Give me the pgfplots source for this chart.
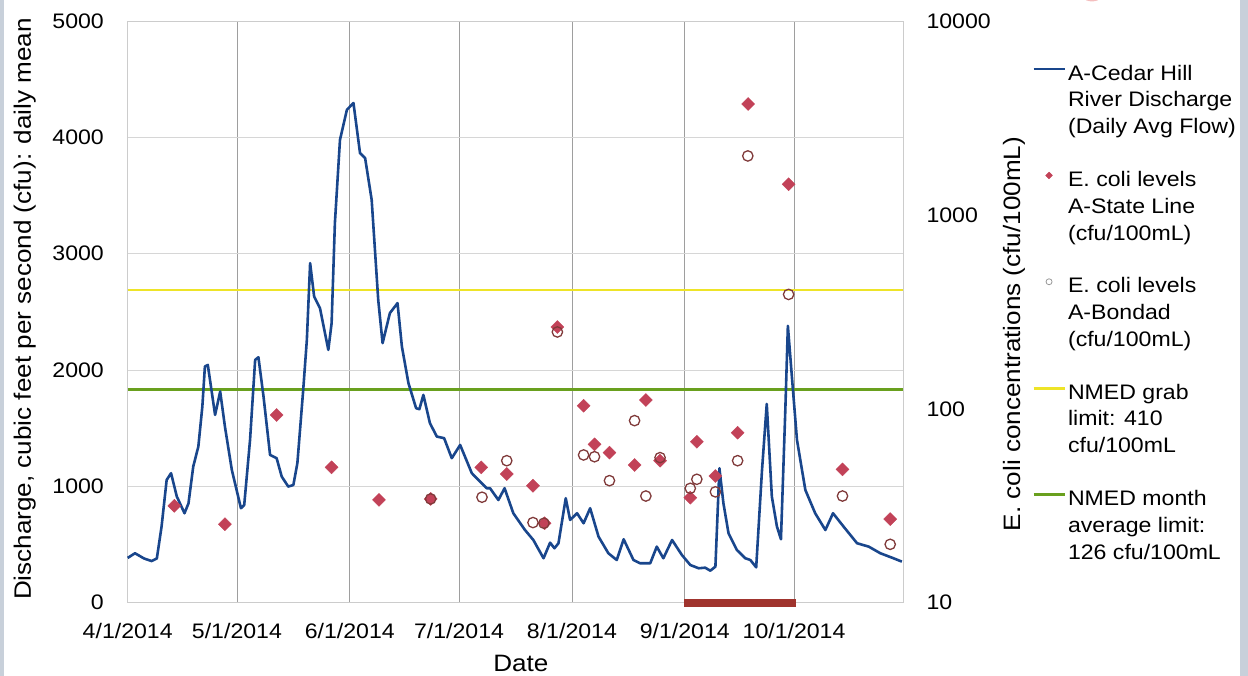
\documentclass[border=0pt]{standalone}
\usepackage{fontspec}
\setmainfont{Liberation Sans}[FakeStretch=1.1]
\usepackage{pgfplots}
\pgfplotsset{compat=1.18}

\definecolor{flow}{RGB}{25,70,140}
\definecolor{grab}{RGB}{238,228,40}
\definecolor{monthc}{RGB}{105,160,30}
\definecolor{stateline}{RGB}{194,66,88}
\definecolor{bondad}{RGB}{128,58,58}
\definecolor{redbar}{RGB}{160,52,46}
\definecolor{strip}{RGB}{200,208,218}
\definecolor{arcred}{RGB}{244,190,190}

\newcommand\tickfont{\fontsize{21bp}{25bp}\selectfont}
\newcommand\labfont{\fontsize{23.7bp}{28bp}\selectfont}
\newcommand\legfont{\fontsize{21bp}{26.8bp}\selectfont}

\pgfplotsset{
  base/.style={scale only axis, width=775.6bp, height=581.7bp,
    xmin=0, xmax=213, major tick length=0pt, minor tick length=0pt},
  lineleg/.style={legend image code/.code={\draw[##1] (0bp,31bp) -- (31bp,31bp);}},
  markleg/.style={legend image code/.code={\draw[##1] plot coordinates {(15.5bp,31bp)};}},
}

\begin{document}
\begin{tikzpicture}
\fill[strip] (1112.3bp,-73.3bp) rectangle (1120.3bp,602.7bp);
\fill[strip] (-127.7bp,-73.3bp) rectangle (-123.7bp,602.7bp);
\draw[arcred, line width=1.5bp] (964.3bp,616bp) circle[radius=14bp];

% axis 1: linear frame, grid, left ticks, labels
\begin{axis}[base,
  ymin=0, ymax=5000,
  axis line style={draw=black!20, line width=0.8bp},
  xtick={0,30,61,91,122,153,183},
  xticklabels={4/1/2014,5/1/2014,6/1/2014,7/1/2014,8/1/2014,9/1/2014,10/1/2014},
  ytick={0,1000,2000,3000,4000,5000},
  yticklabels={0,1000,2000,3000,4000,5000},
  xmajorgrids, ymajorgrids,
  major x grid style={black!38, line width=0.8bp},
  major y grid style={black!16, line width=0.8bp},
  tick label style={font=\tickfont},
  xticklabel style={anchor=base, inner sep=0pt, yshift=-35.7bp},
  yticklabel style={anchor=east, inner sep=0pt, xshift=-23.7bp},
  xlabel={Date},
  xlabel style={at={(axis description cs:0.507,0)}, anchor=base, yshift=-69bp, font=\labfont, inner sep=0pt},
  ylabel={Discharge, cubic feet per second (cfu): daily mean},
  ylabel style={at={(axis description cs:-0.1247,0.505)}, anchor=base, font=\labfont, inner sep=0pt},
]
\end{axis}

% axis 2: log, limit lines, right ticks
\begin{axis}[base,
  ymode=log, ymin=10, ymax=10000,
  axis x line=none, axis y line*=right,
  axis line style={draw=black!20, line width=0.8bp},
  ytick={10,100,1000,10000}, yticklabels={10,100,1000,10000},
  yticklabel style={anchor=west, inner sep=0pt, xshift=23bp, font=\tickfont},
  ylabel={E. coli concentrations (cfu/100mL)},
  ylabel style={at={(axis description cs:1.1505,0.462)}, anchor=base, font=\labfont, inner sep=0pt},
]
\addplot[grab, line width=2.6bp] coordinates {(0,410) (213,410)};
\addplot[monthc, line width=2.6bp] coordinates {(0,126) (213,126)};
\end{axis}

% axis 3: linear, discharge line and red bar
\begin{axis}[base, hide axis, ymin=0, ymax=5000, clip=false]
\addplot[flow, line width=2.6bp, line join=round] coordinates {
(0,385) (2,425) (4.5,380) (6.6,358) (8,380) (9.3,654) (10.7,1055) (11.9,1113)
(13.5,912) (15.6,769) (16.7,855) (18,1170) (19.4,1342) (20.5,1686) (21.2,2030)
(22,2044) (24,1614) (25.4,1815) (26.7,1514) (28.6,1141) (31.1,812) (32,840)
(33.6,1399) (35,2087) (35.9,2110) (37.3,1772) (39.1,1270) (40.9,1242) (42.3,1084)
(44.1,998) (45.5,1012) (46.6,1200) (48.2,1829) (49.2,2259) (50.1,2919) (51.2,2632)
(52.8,2532) (55.1,2173) (56,2403) (56.9,3263) (58.3,3979) (60.2,4237) (62,4295)
(63.8,3865) (65.2,3822) (67,3463) (68.8,2603) (70,2231) (72,2489) (74.1,2575)
(75.3,2202) (77.1,1887) (79.2,1672) (80.1,1663) (81.2,1786) (83,1543) (84.9,1428)
(86.9,1414) (89,1242) (91.3,1356) (94.5,1113) (96.5,1050) (98.6,984) (99.5,984)
(101.8,883) (103.5,984) (105.9,769) (109.1,625) (111.4,539) (114.2,382) (116,516)
(117.2,468) (118.3,511) (120.3,898) (121.5,711) (123.4,769) (125.2,683) (127,812)
(129.3,568) (132,425) (134.3,367) (136.2,545) (138.9,367) (140.7,339) (143.5,339)
(145.3,482) (147.1,382) (149.5,539) (152.2,410) (154.5,324) (156.8,296) (158.6,301)
(160,275) (161.4,310) (162.5,1156) (163.6,855) (165,597) (167.3,453) (169.6,382)
(171,367) (172.6,304) (174.2,1141) (175.5,1709) (176.9,912) (178.3,654) (179.4,545)
(180.6,1657) (181.3,2380) (182.4,1944) (183.8,1399) (186.1,969) (188.8,769)
(191.6,625) (193.7,769) (196.6,654) (200.3,511) (203.5,482) (206.7,425) (210.3,382)
(212.6,353)
};
\addplot[redbar, line width=7.7bp] coordinates {(152.9,0) (183.6,0)};
\end{axis}

% axis 4: log, scatter and legend
\begin{axis}[base, hide axis, ymode=log, ymin=10, ymax=10000,
  legend cell align=left,
  legend style={at={(axis description cs:1.166,0.9244)}, anchor=north west,
    draw=none, fill=none, inner sep=0pt, outer sep=0pt,
    row sep=36bp, column sep=2bp, font=\legfont,
    nodes={align=left, inner sep=0pt, outer sep=0pt}},
]
\addlegendimage{flow, line width=2bp, lineleg}
\addlegendentry{A-Cedar Hill\\River Discharge\\(Daily Avg Flow)}
\addlegendimage{only marks, mark=square*, mark size=2.4bp, mark options={rotate=45, fill=stateline, draw=stateline}, markleg}
\addlegendentry{E. coli levels\\A-State Line\\(cfu/100mL)}
\addlegendimage{only marks, mark=o, mark size=3bp, mark options={draw=black!40, line width=0.8bp}, markleg}
\addlegendentry{E. coli levels\\A-Bondad\\(cfu/100mL)}
\addlegendimage{grab, line width=3bp, lineleg}
\addlegendentry{NMED grab\\limit: 410\\cfu/100mL}
\addlegendimage{monthc, line width=3bp, lineleg}
\addlegendentry{NMED month\\average limit:\\126 cfu/100mL}

\addplot[only marks, mark=square*, mark size=4.6bp, mark options={rotate=45, fill=stateline, draw=stateline}, forget plot] coordinates {
(12.8,31.6) (26.7,25.4) (40.9,92.9) (56.0,49.9) (69.0,33.9) (83.2,34.3) (97.1,49.9)
(104.1,46.1) (111.3,40.1) (114.5,25.7) (118.0,264) (125.2,103.7) (128.2,65.6)
(132.3,59.4) (139.2,51.3) (142.3,111) (146.2,54) (154.5,34.8) (156.3,67.6) (161.4,45)
(167.5,75.3) (170.4,3733) (181.5,1439) (196.3,48.7) (209.4,27.0)
};
\addplot[only marks, mark=o, mark size=5.2bp, mark options={draw=bondad, line width=1.3bp}, forget plot] coordinates {
(83.2,34.3) (97.3,35) (104.1,54) (111.3,25.9) (114.3,25.7) (118.0,249) (125.2,57.8)
(128.2,56.6) (132.3,42.6) (139.2,86.9) (142.3,35.5) (146.2,56) (154.5,38.9) (156.3,43.3)
(161.4,37.3) (167.5,54) (170.3,2014) (181.5,389) (196.3,35.5) (209.4,20.0)
};
\end{axis}

\pgfresetboundingbox
\path[use as bounding box] (-127.7bp,-73.3bp) rectangle (1120.3bp,602.7bp);
\end{tikzpicture}
\end{document}
